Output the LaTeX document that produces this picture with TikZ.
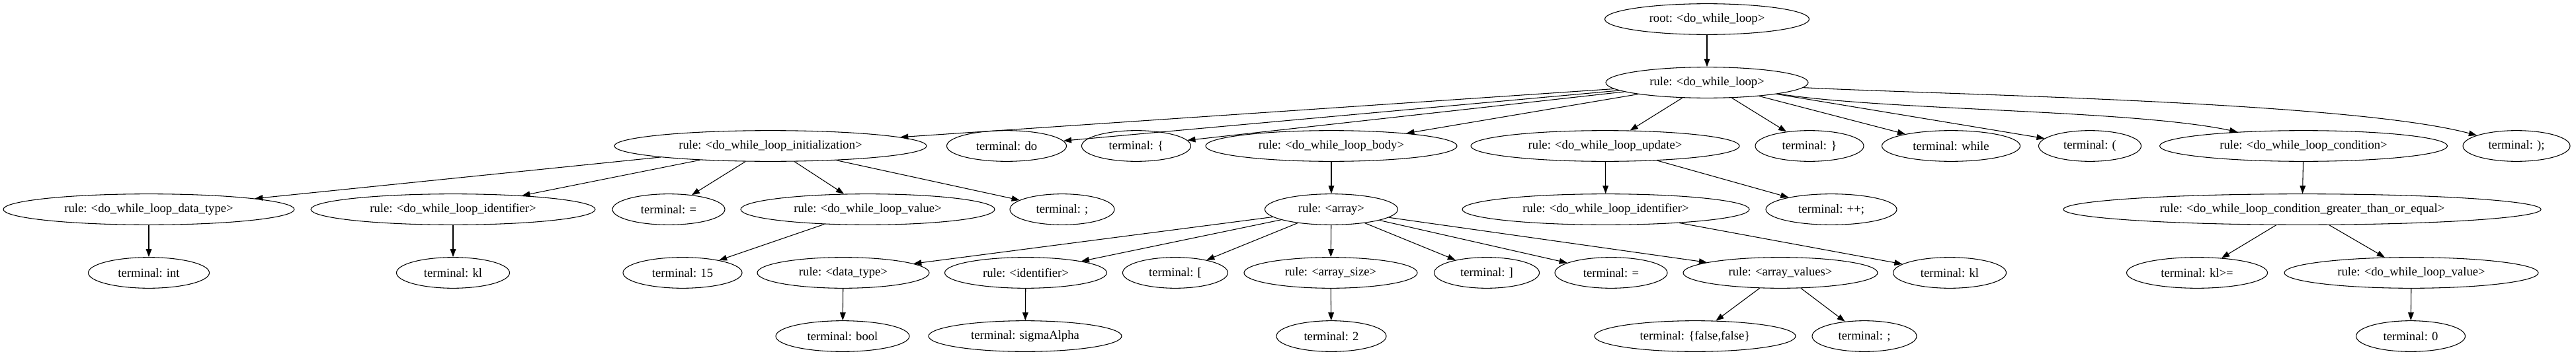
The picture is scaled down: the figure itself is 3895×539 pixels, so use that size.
\documentclass[tikz,border=0pt]{standalone}
\usepackage{fontspec}
\setmainfont{Liberation Serif}
\usetikzlibrary{shapes.geometric,arrows.meta}
\tikzset{
  gnode/.style={ellipse, draw, line width=0.8pt, inner sep=0pt, minimum height=35pt,
    font=\fontsize{14}{16}\selectfont, minimum width=#1*0.75pt},
  gedge/.style={draw, line width=0.8pt, -{Triangle[length=9pt,width=6.5pt]}}
}
\begin{document}
\begin{tikzpicture}[x=0.75pt,y=-0.75pt]
\useasboundingbox (0,0) rectangle (3895,539);
% row 1
\node[gnode=309] (root) at (2581,29) {root: <do\_while\_loop>};
% row 2
\node[gnode=306] (dwl) at (2581,125) {rule: <do\_while\_loop>};
% row 3
\node[gnode=472] (init) at (1165,221) {rule: <do\_while\_loop\_initialization>};
\node[gnode=181] (tdo) at (1522,221) {terminal: do};
\node[gnode=165] (tlb) at (1718,221) {terminal: \{};
\node[gnode=380] (body) at (2013,221) {rule: <do\_while\_loop\_body>};
\node[gnode=406] (upd) at (2427,221) {rule: <do\_while\_loop\_update>};
\node[gnode=164] (trb) at (2736,221) {terminal: \}};
\node[gnode=209] (twhile) at (2950,221) {terminal: while};
\node[gnode=155] (tlp) at (3160,221) {terminal: (};
\node[gnode=435] (cond) at (3483,221) {rule: <do\_while\_loop\_condition>};
\node[gnode=162] (trp) at (3805,221) {terminal: );};
% row 4
\node[gnode=440] (dtype0) at (225,317) {rule: <do\_while\_loop\_data\_type>};
\node[gnode=430] (ident0) at (685,317) {rule: <do\_while\_loop\_identifier>};
\node[gnode=170] (teq0) at (1011,317) {terminal: =};
\node[gnode=384] (val0) at (1312,317) {rule: <do\_while\_loop\_value>};
\node[gnode=158] (tsc0) at (1606,317) {terminal: ;};
\node[gnode=201] (arr) at (2013,317) {rule: <array>};
\node[gnode=434] (ident1) at (2428,317) {rule: <do\_while\_loop\_identifier>};
\node[gnode=198] (tpp) at (2769,317) {terminal: ++;};
\node[gnode=722] (gte) at (3481,317) {rule: <do\_while\_loop\_condition\_greater\_than\_or\_equal>};
% row 5
\node[gnode=183] (tint) at (225,413) {terminal: int};
\node[gnode=171] (tkl0) at (685,413) {terminal: kl};
\node[gnode=180] (t15) at (1032,413) {terminal: 15};
\node[gnode=260] (dtype) at (1275,413) {rule: <data\_type>};
\node[gnode=245] (ident) at (1551,413) {rule: <identifier>};
\node[gnode=159] (tlsb) at (1777,413) {terminal: [};
\node[gnode=262] (asize) at (2012,413) {rule: <array\_size>};
\node[gnode=159] (trsb) at (2248,413) {terminal: ]};
\node[gnode=170] (teq1) at (2436,413) {terminal: =};
\node[gnode=294] (avals) at (2692,413) {rule: <array\_values>};
\node[gnode=171] (tkl1) at (2948,413) {terminal: kl};
\node[gnode=213] (tkge) at (3322,413) {terminal: kl>=};
\node[gnode=384] (val1) at (3646,413) {rule: <do\_while\_loop\_value>};
% row 6
\node[gnode=202] (tbool) at (1274,509) {terminal: bool};
\node[gnode=292] (tsigma) at (1550,509) {terminal: sigmaAlpha};
\node[gnode=166] (t2) at (2013,509) {terminal: 2};
\node[gnode=304] (tff) at (2563,509) {terminal: \{false,false\}};
\node[gnode=158] (tsc1) at (2819,509) {terminal: ;};
\node[gnode=165] (t0) at (3645,509) {terminal: 0};
% edges
\path[gedge] (root) -- (dwl);
\foreach \c in {init,tdo,tlb,body,upd,trb,twhile,tlp} \path[gedge] (dwl) -- (\c);
\path[gedge] (dwl) to[out=-9,in=168,looseness=0.6] (cond);
\path[gedge] (dwl) to[out=-3,in=165,looseness=0.5] (trp);
\foreach \c in {dtype0,ident0,teq0,val0,tsc0} \path[gedge] (init) -- (\c);
\path[gedge] (body) -- (arr);
\path[gedge] (upd) -- (ident1);
\path[gedge] (upd) -- (tpp);
\path[gedge] (cond) -- (gte);
\path[gedge] (dtype0) -- (tint);
\path[gedge] (ident0) -- (tkl0);
\path[gedge] (val0) -- (t15);
\foreach \c in {dtype,ident,tlsb,asize,trsb,teq1,avals} \path[gedge] (arr) -- (\c);
\path[gedge] (ident1) -- (tkl1);
\path[gedge] (gte) -- (tkge);
\path[gedge] (gte) -- (val1);
\path[gedge] (dtype) -- (tbool);
\path[gedge] (ident) -- (tsigma);
\path[gedge] (asize) -- (t2);
\path[gedge] (avals) -- (tff);
\path[gedge] (avals) -- (tsc1);
\path[gedge] (val1) -- (t0);
\end{tikzpicture}
\end{document}
